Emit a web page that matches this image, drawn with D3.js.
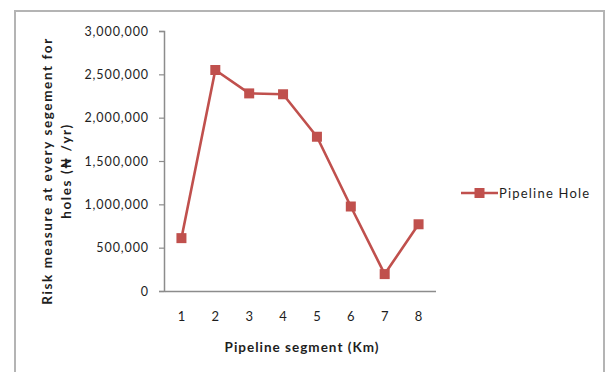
<!DOCTYPE html>
<html>
<head>
<meta charset="utf-8">
<script src="https://cdn.jsdelivr.net/npm/d3@7"></script>
<style>
  html, body { margin: 0; padding: 0; background: #fff; }
  svg { display: block; }
  text { font-family: Lato, "Open Sans", sans-serif; fill: #1e1e1e; }
</style>
</head>
<body>
<svg id="chart" width="611" height="372"></svg>
<script>
// Pipeline segments (km) and the risk measure for holes per segment (₦/yr)
const segments = ["1", "2", "3", "4", "5", "6", "7", "8"];
const riskValues = [610000, 2550000, 2280000, 2270000, 1780000, 975000, 195000, 770000];
const yTicks = [0, 500000, 1000000, 1500000, 2000000, 2500000, 3000000];
const seriesName = "Pipeline Hole";
const xTitle = "Pipeline segment (Km)";
const yTitleLines = ["Risk measure at every segement for", "holes (\u20A6 /yr)"];

const red = "#C0504D";
const svg = d3.select("#chart");

// chart frame
svg.append("rect")
  .attr("x", 15).attr("y", 11)
  .attr("width", 589).attr("height", 380)
  .attr("fill", "#fff")
  .attr("stroke", "#b4b4b4").attr("stroke-width", 2);

const x = d3.scaleBand().domain(segments).range([164.5, 435.5]);
const y = d3.scaleLinear().domain([0, 3000000]).range([291, 31]);

const fmt = d3.format(",");

// y axis
const yAxis = svg.append("g")
  .attr("transform", "translate(164,0)")
  .call(d3.axisLeft(y).tickValues(yTicks).tickFormat(fmt).tickSize(5).tickPadding(10));
yAxis.select(".domain").attr("stroke", "#8c8c8c").attr("stroke-width", 1.5);
yAxis.selectAll(".tick line").attr("stroke", "#8c8c8c").attr("stroke-width", 1.2);
yAxis.selectAll(".tick text")
  .attr("font-size", 12.5).attr("letter-spacing", 0.9)
  .style("font-family", "Lato, sans-serif").attr("fill", "#1e1e1e");

// x axis
const xAxis = svg.append("g")
  .attr("transform", "translate(0,291)")
  .call(d3.axisBottom(x).tickSize(0).tickPadding(21));
xAxis.select(".domain").attr("stroke", "#8c8c8c").attr("stroke-width", 1.5);
xAxis.selectAll(".tick text")
  .attr("font-size", 13)
  .style("font-family", "Lato, sans-serif").attr("fill", "#1e1e1e");

// axis titles
svg.append("text")
  .attr("x", 302).attr("y", 352)
  .attr("text-anchor", "middle")
  .attr("font-size", 13.5).attr("font-weight", "bold").attr("letter-spacing", 1.0)
  .text(xTitle);

const yTitle = svg.append("text")
  .attr("transform", "translate(0,171) rotate(-90)")
  .attr("text-anchor", "middle")
  .attr("font-size", 13.5).attr("font-weight", "bold");
yTitleLines.forEach((line, i) => {
  yTitle.append("tspan")
    .attr("x", 0).attr("y", 52 + i * 19)
    .attr("letter-spacing", 1.6)
    .text(line);
});

// series line and markers
const cx = d => x(d) + x.bandwidth() / 2;
const data = segments.map((s, i) => ({ s, v: riskValues[i] }));

svg.append("path")
  .datum(data)
  .attr("fill", "none")
  .attr("stroke", red)
  .attr("stroke-width", 2.6)
  .attr("stroke-linejoin", "round")
  .attr("d", d3.line().x(d => cx(d.s)).y(d => y(d.v)));

const ms = 10;
svg.selectAll("rect.marker")
  .data(data)
  .join("rect")
  .attr("class", "marker")
  .attr("x", d => cx(d.s) - ms / 2)
  .attr("y", d => y(d.v) - ms / 2)
  .attr("width", ms).attr("height", ms)
  .attr("fill", red);

// legend
const lg = svg.append("g").attr("transform", "translate(461,193)");
lg.append("line")
  .attr("x1", 0).attr("x2", 37).attr("y1", 0).attr("y2", 0)
  .attr("stroke", red).attr("stroke-width", 2.6);
lg.append("rect")
  .attr("x", 18.5 - ms / 2).attr("y", -ms / 2)
  .attr("width", ms).attr("height", ms)
  .attr("fill", red);
lg.append("text")
  .attr("x", 38).attr("y", 4.5)
  .attr("font-size", 13).attr("letter-spacing", 1.2)
  .text(seriesName);
</script>
</body>
</html>
